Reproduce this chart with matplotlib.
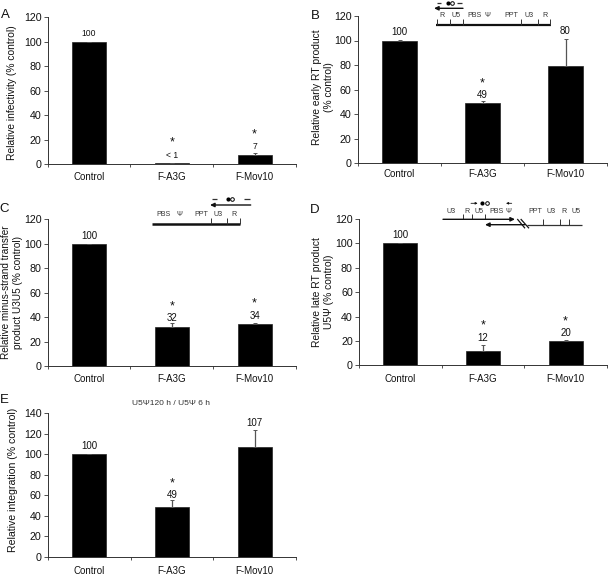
import matplotlib
matplotlib.use("Agg")
import matplotlib.pyplot as plt

W, H = 608, 577
plt.rcParams["font.family"] = ["Liberation Sans", "DejaVu Sans"]

categories = ["Control", "F-A3G", "F-Mov10"]

values_a = [100, 1, 7.5]
tops_a = [100, 1, 9]
labels_a = ["100", "< 1", "7"]
label_y_a = [107, 7.5, 14.4]
star_y_a = [None, 19, 25.5]

values_b = [100, 49, 79]
tops_b = [100.5, 50.5, 101]
labels_b = ["100", "49", "80"]
label_y_b = [106.7, 55.8, 107.8]
star_y_b = [None, 66, None]

values_c = [100, 32, 34]
tops_c = [100, 35, 35.5]
labels_c = ["100", "32", "34"]
label_y_c = [106.6, 39, 41]
star_y_c = [None, 50, 52.6]

values_d = [100, 12, 20]
tops_d = [100, 17, 20.5]
labels_d = ["100", "12", "20"]
label_y_d = [106.9, 22.7, 26.8]
star_y_d = [None, 33.6, 37]

values_e = [100, 49, 107.5]
tops_e = [100, 56, 124]
labels_e = ["100", "49", "107"]
label_y_e = [108, 60.8, 131]
star_y_e = [None, 73, None]

DARK = "#333333"
GREY = "#555555"


def px_axes(fig, left, right, top, bottom):
    return fig.add_axes([left / W, 1 - bottom / H, (right - left) / W, (bottom - top) / H])


def bar_panel(fig, box, ymax, step, values, tops, labels, label_y, star_y, xlabel_pad, label_size=7):
    ax = px_axes(fig, *box)
    x = range(len(categories))
    yerr = [[0 for _ in values], [t - v for t, v in zip(tops, values)]]
    ax.bar(x, values, width=0.41, color="black", edgecolor="#222222", linewidth=0.5)
    ax.errorbar(x, values, yerr=yerr, fmt="none", ecolor=GREY, elinewidth=0.9, capsize=1.5, capthick=0.7)
    ax.set_xlim(-0.5, 2.5)
    ax.set_ylim(0, ymax)
    ax.set_yticks(range(0, ymax + 1, step))
    ax.set_xticks(x)
    ax.set_xticklabels(categories)
    ax.set_xticks([-0.5, 0.5, 1.5, 2.5], minor=True)
    ax.tick_params(axis="x", which="major", length=0, pad=xlabel_pad, labelsize=7, labelcolor="#111111")
    ax.tick_params(axis="x", which="minor", length=2, width=0.6, color=DARK)
    ax.tick_params(axis="y", length=3, width=0.6, color=DARK, pad=1.5, labelsize=7.7, labelcolor="#111111")
    ax.spines["top"].set_visible(False)
    ax.spines["right"].set_visible(False)
    ax.spines["left"].set_linewidth(0.7)
    ax.spines["bottom"].set_linewidth(0.7)
    ax.spines["left"].set_color(DARK)
    ax.spines["bottom"].set_color(DARK)
    for i in x:
        ax.text(i, label_y[i], labels[i], ha="center", va="center", fontsize=label_size, color="#111111")
        if star_y[i] is not None:
            ax.text(i, star_y[i], "*", ha="center", va="center_baseline", fontsize=9, color="#111111")
    return ax


def seg(ov, x0, y0, x1, y1, lw=0.7, color=DARK):
    ov.plot([x0, x1], [y0, y1], color=color, lw=lw, solid_capstyle="butt")


def arrow(ov, x0, x1, y, lw=1.0, scale=10):
    ov.annotate("", xy=(x1, y), xytext=(x0, y),
                arrowprops=dict(arrowstyle="-|>,head_width=0.12,head_length=0.25", color="#111111", lw=lw,
                                shrinkA=0, shrinkB=0, mutation_scale=scale))


def probe(ov, x0, x1, y):
    ov.plot([x0], [y], "o", ms=3, color="black", mew=0)
    ov.plot([x1], [y], "o", ms=2.6, mfc="white", mec="black", mew=0.7)


def small_labels(ov, names, xs, y):
    for name, x in zip(names, xs):
        ov.text(x, y, name, ha="center", va="center", fontsize=5.1, color="#333333")


def main():
    fig = plt.figure(figsize=(W / 100, H / 100), dpi=100)

    bar_panel(fig, (47.7, 296, 17.3, 164.3), 120, 20, values_a, tops_a, labels_a, label_y_a, star_y_a, 5.5, 6.2)
    bar_panel(fig, (358, 607, 16, 163), 120, 20, values_b, tops_b, labels_b, label_y_b, star_y_b, 4.5)
    bar_panel(fig, (47.7, 296, 219.3, 366), 120, 20, values_c, tops_c, labels_c, label_y_c, star_y_c, 5.5)
    bar_panel(fig, (359, 607, 219, 365.3), 120, 20, values_d, tops_d, labels_d, label_y_d, star_y_d, 6.2)
    bar_panel(fig, (48, 296, 413.3, 557), 140, 20, values_e, tops_e, labels_e, label_y_e, star_y_e, 6.5)

    # overlay in pixel coordinates for letters, axis titles and the genome sketches
    ov = fig.add_axes([0, 0, 1, 1], facecolor="none")
    ov.set_xlim(0, W)
    ov.set_ylim(H, 0)
    ov.axis("off")

    for letter, x, y in [("A", 5, 15), ("B", 315, 15.7), ("C", 4.5, 209), ("D", 315, 210), ("E", 4, 400)]:
        ov.text(x, y, letter, ha="center", va="center", fontsize=9.5, color="#111111")

    ylabel_kw = dict(rotation=90, ha="center", va="center", color="#111111",
                     multialignment="center", linespacing=1.25)
    ov.text(12.3, 92.5, "Relative infectivity (% control)", fontsize=7.4, **ylabel_kw)
    ov.text(322.7, 87.5, "Relative early RT product\n(% control)", fontsize=7.4, **ylabel_kw)
    ov.text(12, 292.5, "Relative minus-strand transfer\nproduct U3U5 (% control)", fontsize=7.2, **ylabel_kw)
    ov.text(322.7, 291.7, "Relative late RT product\nU5\u03a8 (% control)", fontsize=7.4, **ylabel_kw)
    ov.text(13, 480, "Relative integration (% control)", fontsize=7.6, **ylabel_kw)

    ov.text(171, 403.3, "U5\u03a8120 h / U5\u03a8 6 h", ha="center", va="center", fontsize=6, color="#333333")

    # sketch B
    seg(ov, 436.3, 25, 550.7, 25, lw=1.6, color="#111111")
    for x in [436.6, 449.7, 463, 521.3, 538, 550.4]:
        seg(ov, x, 25, x, 18.7)
    small_labels(ov, ["R", "U5", "PBS", "\u03a8", "PPT", "U3", "R"],
                 [442.3, 456, 474.3, 487.3, 511.7, 529, 545], 15.7)
    arrow(ov, 463, 434, 8.3)
    seg(ov, 436.7, 2.7, 441.3, 2.7, lw=0.9)
    seg(ov, 457.3, 2.7, 462.3, 2.7, lw=0.9)
    probe(ov, 447.7, 451.7, 2.7)

    # sketch C
    seg(ov, 151.7, 223.7, 240, 223.7, lw=1.8, color="#111111")
    for x in [210.7, 227.3, 239.8]:
        seg(ov, x, 223.7, x, 217.7)
    small_labels(ov, ["PBS", "\u03a8", "PPT", "U3", "R"], [163.3, 179.3, 201.3, 218.3, 234.3], 214)
    arrow(ov, 250.7, 210, 205)
    seg(ov, 212, 199, 217.3, 199, lw=0.9)
    seg(ov, 244, 199, 250, 199, lw=0.9)
    probe(ov, 227.7, 232.3, 199)

    # sketch D
    arrow(ov, 443, 515, 219.3)
    arrow(ov, 525, 485, 224.7)
    seg(ov, 526.7, 224.7, 581.7, 224.7, lw=0.9)
    seg(ov, 517.3, 219, 525, 228.3, lw=0.9, color="#111111")
    seg(ov, 520.7, 219, 529, 228.3, lw=0.9, color="#111111")
    for x in [462.7, 471.7, 485]:
        seg(ov, x, 219.3, x, 214)
    for x in [543.3, 560.3, 569]:
        seg(ov, x, 224.7, x, 219)
    small_labels(ov, ["U3", "R", "U5", "PBS", "\u03a8", "PPT", "U3", "R", "U5"],
                 [450.7, 466.7, 479, 496, 508.7, 535, 550.7, 564, 575.7], 211.7)
    arrow(ov, 471, 477.7, 203.3, lw=0.6, scale=5)
    arrow(ov, 511.7, 506, 203.3, lw=0.6, scale=5)
    probe(ov, 481.7, 486.7, 203.3)

    ov.set_xlim(0, W)
    ov.set_ylim(H, 0)
    fig.savefig("out.png", dpi=100)
    plt.close(fig)


if __name__ == "__main__":
    main()
